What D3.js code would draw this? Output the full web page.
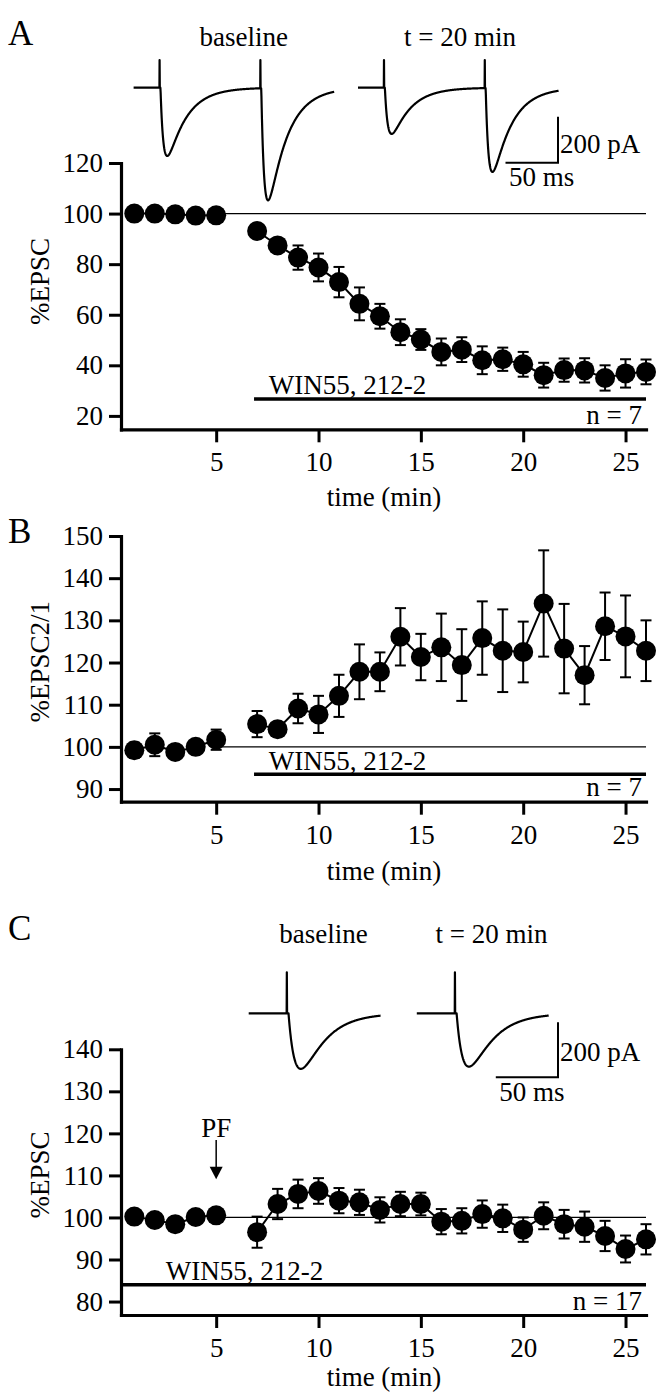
<!DOCTYPE html>
<html>
<head>
<meta charset="utf-8">
<script src="https://d3js.org/d3.v7.min.js"></script>
<style>
  body { margin: 0; background: #fff; }
  text { font-family: "Liberation Serif", "Times New Roman", serif; fill: #000; }
</style>
</head>
<body>
<div id="fig"></div>
<script>

// time of each sample (min); no sample at 6 min (drug wash-in)
var times = [1, 2, 3, 4, 5, 7, 8, 9, 10, 11, 12, 13, 14, 15, 16, 17, 18, 19, 20, 21, 22, 23, 24, 25, 26]
var xTicks = [5, 10, 15, 20, 25]

// A: %EPSC, WIN55,212-2 alone
var epscA = [100, 100, 99.7, 99.2, 99.3, 93.1, 87.4, 82.6, 78.7, 72.9, 64.3, 59.4, 53.1, 50.2, 45.3, 46.2, 42, 42.4, 40.4, 36.1, 38.1, 38, 35, 36.8, 37.4]
var semA = [0.8, 0.8, 0.8, 0.8, 0.8, 2, 2.5, 4.8, 5.5, 6, 6.5, 4.9, 5.1, 4.1, 5.3, 4.9, 5.5, 4.6, 4.9, 4.9, 4.6, 4.8, 5, 5.6, 4.9]
var ticksA = [20, 40, 60, 80, 100, 120]

// B: paired-pulse ratio %EPSC2/1
var pprB = [99.2, 100.5, 98.8, 100, 101.7, 105.4, 104.2, 109.1, 107.7, 112.1, 117.8, 117.8, 126.1, 121.3, 123.6, 119.4, 125.8, 122.8, 122.5, 134, 123.3, 117, 128.6, 126.2, 122.8]
var semB = [1.8, 2.7, 1.2, 1, 2.4, 3.1, 1.5, 3.5, 4.4, 5, 6.5, 4.6, 6.8, 5.5, 8, 8.5, 8.7, 9.8, 7.2, 12.6, 10.6, 6.9, 8, 9.7, 7.2]
var ticksB = [90, 100, 110, 120, 130, 140, 150]

// C: %EPSC, PF tetanus in WIN55,212-2
var epscC = [100.2, 99.4, 98.4, 100.1, 100.5, 96.5, 103.2, 105.6, 106.3, 104, 103.6, 101.8, 103.2, 103.2, 99, 99.2, 100.8, 99.8, 97.1, 100.4, 98.4, 97.8, 95.6, 92.5, 94.8]
var semC = [0.8, 0.8, 0.8, 0.8, 0.8, 3.7, 3.6, 3.4, 3.05, 3, 3, 3, 2.9, 2.7, 3, 3, 3.25, 3.25, 2.9, 3.2, 3.4, 3.6, 3.6, 3.2, 3.6]
var ticksC = [80, 90, 100, 110, 120, 130, 140]

// example traces: EPSC amplitudes (pA) for each stimulus
var traceNames = ["baseline", "t = 20 min"]
var ampsA = [[297, 488], [201, 365]]
var ampsC = [[202], [194]]

var svg = d3.select("#fig").append("svg")
  .attr("width", 658)
  .attr("height", 1394)

var font = '"Liberation Serif", "Times New Roman", serif'

var x = d3.scaleLinear().domain([0.35, 26]).range([121, 646])

function drawPanel(p) {
  var g = svg.append("g")
  var y = d3.scaleLinear().domain(p.domain).range([p.bottom, p.top])

  var yAxis = d3.axisLeft(y).tickValues(p.ticks).tickSize(12).tickPadding(6).tickSizeOuter(0)
  var xAxis = d3.axisBottom(x).tickValues(xTicks).tickSize(13).tickPadding(10).tickSizeOuter(0)

  var ga = g.append("g").attr("transform", "translate(121,0)").call(yAxis)
  var gx = g.append("g").attr("transform", "translate(0," + p.bottom + ")").call(xAxis)
  ;[ga, gx].forEach(function(a) {
    a.attr("font-family", font).attr("font-size", 27)
    a.select(".domain").attr("stroke-width", 3.2).attr("stroke-linecap", "square")
    a.selectAll(".tick line").attr("stroke-width", 3)
    a.selectAll(".tick text").attr("fill", "#000")
  })

  // axis titles
  g.append("text")
    .attr("transform", "translate(40," + p.labelY + ") rotate(-90)")
    .attr("text-anchor", "middle")
    .attr("dy", "0.35em")
    .style("font-size", "27px")
    .text(p.ylabel)
  g.append("text")
    .attr("x", 384)
    .attr("y", p.bottom + p.titleGap)
    .attr("text-anchor", "middle")
    .style("font-size", "27px")
    .text("time (min)")

  // panel letter
  g.append("text")
    .attr("x", 8)
    .attr("y", p.letterY)
    .style("font-size", "35px")
    .text(p.letter)

  // 100% reference line
  g.append("line")
    .attr("x1", x(5)).attr("x2", x(26))
    .attr("y1", y(100)).attr("y2", y(100))
    .attr("stroke", "#000").attr("stroke-width", 1.3)

  // drug bar
  g.append("line")
    .attr("x1", x(p.drugFrom)).attr("x2", x(26))
    .attr("y1", y(p.drugLevel)).attr("y2", y(p.drugLevel))
    .attr("stroke", "#000").attr("stroke-width", 3.5)
  g.append("text")
    .attr("x", x(p.drugTextAt))
    .attr("y", y(p.drugLevel) - 4.5)
    .style("font-size", "27px")
    .text("WIN55, 212-2")

  g.append("text")
    .attr("x", 642)
    .attr("y", p.bottom - 5.5)
    .attr("text-anchor", "end")
    .style("font-size", "27px")
    .text(p.n)

  var pts = times.map(function(t, i) { return {t: t, v: p.values[i], e: p.sem[i]} })
  var line = d3.line().x(function(d) { return x(d.t) }).y(function(d) { return y(d.v) })

  ;[pts.filter(function(d) { return d.t < 6 }), pts.filter(function(d) { return d.t > 6 })].forEach(function(seg) {
    g.append("path").datum(seg)
      .attr("d", line)
      .attr("fill", "none")
      .attr("stroke", "#000")
      .attr("stroke-width", 2)
  })

  var eb = g.append("g").attr("stroke", "#000").attr("stroke-width", 2)
  eb.selectAll(".v").data(pts).enter().append("line")
    .attr("x1", function(d) { return x(d.t) }).attr("x2", function(d) { return x(d.t) })
    .attr("y1", function(d) { return y(d.v + d.e) }).attr("y2", function(d) { return y(d.v - d.e) })
  eb.selectAll(".ct").data(pts).enter().append("line")
    .attr("x1", function(d) { return x(d.t) - 5.5 }).attr("x2", function(d) { return x(d.t) + 5.5 })
    .attr("y1", function(d) { return y(d.v + d.e) }).attr("y2", function(d) { return y(d.v + d.e) })
  eb.selectAll(".cb").data(pts).enter().append("line")
    .attr("x1", function(d) { return x(d.t) - 5.5 }).attr("x2", function(d) { return x(d.t) + 5.5 })
    .attr("y1", function(d) { return y(d.v - d.e) }).attr("y2", function(d) { return y(d.v - d.e) })

  g.selectAll("circle").data(pts).enter().append("circle")
    .attr("cx", function(d) { return x(d.t) })
    .attr("cy", function(d) { return y(d.v) })
    .attr("r", 10)
    .attr("fill", "#000")

  return y
}

// EPSC waveform: double exponential, peak normalised to 1
function kernel(t, tr, td) {
  if (t <= 0) return 0
  var tp = tr * td / (td - tr) * Math.log(td / tr)
  var norm = Math.exp(-tp / td) - Math.exp(-tp / tr)
  return (Math.exp(-t / td) - Math.exp(-t / tr)) / norm
}

function drawTrace(x0, y0, amps, k) {
  var ms = d3.scaleLinear().domain([0, 50]).range([0, k.msPx])
  var pa = d3.scaleLinear().domain([0, 200]).range([0, k.paPx])
  var pts = []
  var si = 0
  for (var t = 0; t <= k.len; t += 0.25) {
    if (si < k.stims.length && t >= k.stims[si]) {
      var ts = k.stims[si]
      pts.push([ts, 0], [ts + 0.15, -k.spike], [ts + 0.35, 0])
      si++
      continue
    }
    var cur = 0
    k.stims.forEach(function(s, j) {
      if (j < amps.length) cur += amps[j] * kernel(t - s - k.lat, k.tr, k.td)
    })
    pts.push([t, cur])
  }
  svg.append("path")
    .datum(pts)
    .attr("d", d3.line().x(function(d) { return x0 + ms(d[0]) }).y(function(d) { return y0 + pa(d[1]) }))
    .attr("fill", "none")
    .attr("stroke", "#000")
    .attr("stroke-width", 2.2)
    .attr("stroke-linejoin", "round")
}

function scaleBar(cx, cy, k, pAy, msy) {
  var ms = d3.scaleLinear().domain([0, 50]).range([0, k.msPx])
  var pa = d3.scaleLinear().domain([0, 200]).range([0, k.paPx])
  svg.append("path")
    .attr("d", "M" + (cx - ms(50)) + "," + cy + "H" + cx + "V" + (cy - pa(200)))
    .attr("fill", "none")
    .attr("stroke", "#000")
    .attr("stroke-width", 2)
  svg.append("text").attr("x", cx + 2).attr("y", pAy).style("font-size", "27px").text("200 pA")
  svg.append("text").attr("x", cx - ms(50) + 3.5).attr("y", msy).style("font-size", "27px").text("50 ms")
}

// ---- panel A
drawPanel({
  letter: "A", letterY: 45, top: 163, bottom: 429.3, domain: [14.7, 120], ticks: ticksA,
  values: epscA, sem: semA, ylabel: "%EPSC", labelY: 281.5, titleGap: 77,
  drugFrom: 6.85, drugLevel: 26.7, drugTextAt: 7.57, n: "n = 7"
})

var kinA = {len: 191, stims: [24.6, 120.6], lat: 1, tr: 3, td: 18, spike: 120, msPx: 52.5, paPx: 46}
drawTrace(133.6, 87.7, ampsA[0], kinA)
drawTrace(358, 87.7, ampsA[1], kinA)
svg.append("text").attr("x", 243.7).attr("y", 46).attr("text-anchor", "middle").style("font-size", "27px").text(traceNames[0])
svg.append("text").attr("x", 460).attr("y", 46).attr("text-anchor", "middle").style("font-size", "27px").text(traceNames[1])
scaleBar(558, 162.7, kinA, 152.5, 186)

// ---- panel B
drawPanel({
  letter: "B", letterY: 543, top: 536, bottom: 801.7, domain: [87, 150], ticks: ticksB,
  values: pprB, sem: semB, ylabel: "%EPSC2/1", labelY: 661.7, titleGap: 78,
  drugFrom: 6.85, drugLevel: 93.5, drugTextAt: 7.57, n: "n = 7"
})

// ---- panel C
drawPanel({
  letter: "C", letterY: 940, top: 1049.3, bottom: 1315, domain: [76.8, 140], ticks: ticksC,
  values: epscC, sem: semC, ylabel: "%EPSC", labelY: 1175, titleGap: 70.5,
  drugFrom: 0.35, drugLevel: 84, drugTextAt: 2.54, n: "n = 17"
})

// PF tetanus arrow
svg.append("text").attr("x", x(5)).attr("y", 1136.7).attr("text-anchor", "middle").style("font-size", "27px").text("PF")
svg.append("line").attr("x1", x(5)).attr("x2", x(5)).attr("y1", 1140).attr("y2", 1168)
  .attr("stroke", "#000").attr("stroke-width", 1.5)
svg.append("path")
  .attr("d", "M" + (x(5) - 6.5) + ",1166.7L" + (x(5) + 6.5) + ",1166.7L" + x(5) + ",1179.3Z")
  .attr("fill", "#000")

var kinC = {len: 106, stims: [30.5], lat: 1.5, tr: 6, td: 18, spike: 149, msPx: 62.2, paPx: 55}
drawTrace(248.7, 1013.3, ampsC[0], kinC)
drawTrace(416.8, 1013.3, ampsC[1], kinC)
svg.append("text").attr("x", 323.5).attr("y", 943.3).attr("text-anchor", "middle").style("font-size", "27px").text(traceNames[0])
svg.append("text").attr("x", 491.6).attr("y", 943.3).attr("text-anchor", "middle").style("font-size", "27px").text(traceNames[1])
scaleBar(558, 1077.3, kinC, 1061, 1101)

</script>
</body>
</html>
